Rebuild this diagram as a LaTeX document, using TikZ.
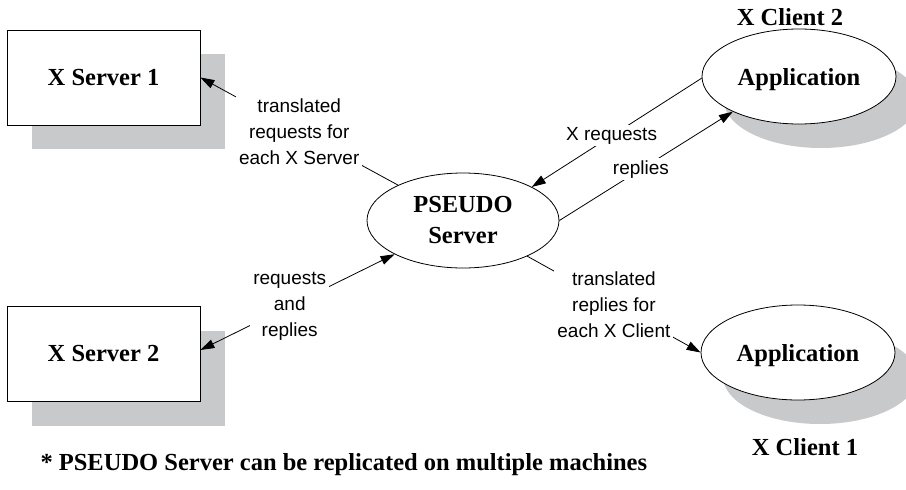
\documentclass[tikz,border=0pt]{standalone}
\usepackage{fontspec}
\setmainfont{Liberation Serif}
\newfontfamily\lblfont{Liberation Sans}
\usetikzlibrary{arrows.meta,shapes.geometric,shadows}
\definecolor{shadowgray}{RGB}{200,201,203}

\begin{document}
\begin{tikzpicture}[x=1pt,y=-1pt,
  title/.style={font=\fontsize{24.5}{31}\selectfont\bfseries, align=center},
  shade/.style={drop shadow={shadow xshift=#1, shadow yshift=-24pt,
      fill=shadowgray, opacity=1}},
  server/.style={title, rectangle, draw, fill=white, line width=0.8pt,
      minimum width=193pt, minimum height=95pt, inner sep=0pt, shade=25pt},
  client/.style={title, ellipse, draw, fill=white, line width=0.8pt,
      minimum width=194pt, minimum height=95pt, inner sep=0pt, shade=22pt,
      text depth=0pt},
  pseudo/.style={title, ellipse, draw, fill=white, line width=0.8pt,
      minimum width=192pt, minimum height=95pt, inner sep=0pt},
  arr/.style={-{Triangle[length=14pt,width=9pt]}, line width=0.8pt},
  dblarr/.style={{Triangle[length=14pt,width=9pt]}-{Triangle[length=14pt,width=9pt]}, line width=0.8pt},
  lbl/.style={font=\lblfont\fontsize{19}{26}\selectfont, align=center,
      fill=white, inner sep=3pt},
]
\useasboundingbox (0,0) rectangle (906,490);

% machines
\node[server] (xs1) at (103.5,77.5) {X Server 1};
\node[server] (xs2) at (103.5,354) {X Server 2};
\node[pseudo] (ps) at (463,220.5) {PSEUDO\\Server};
\node[client] (app2) at (799,76.5) {Application};
\node[client] (app1) at (798,352.5) {Application};

% client captions
\node[title] (c2) at (790,17) {X Client 2};
\node[title] (c1) at (805,447) {X Client 1};

% traffic between the pseudo server and the real servers
\draw[arr] (ps) -- node[lbl] {translated\\requests for\\each X Server} (xs1.east);
\draw[dblarr] ([yshift=4pt]xs2.east) -- node[lbl, pos=0.46] {requests\\and\\replies} (ps);

% traffic between the pseudo server and the clients
\draw[arr] (ps) -- node[lbl] {translated\\replies for\\each X Client} (app1.west);
\draw[arr] (app2.181) -- node[lbl, inner sep=2pt, pos=0.53] {X requests} (ps.26);
\draw[arr] (ps.east) -- node[lbl, inner sep=2pt, pos=0.47] {replies} (app2.208);

% footnote
\node[title, anchor=west] (note) at (37,465)
  {* PSEUDO Server can be replicated on multiple machines};
\end{tikzpicture}
\end{document}
